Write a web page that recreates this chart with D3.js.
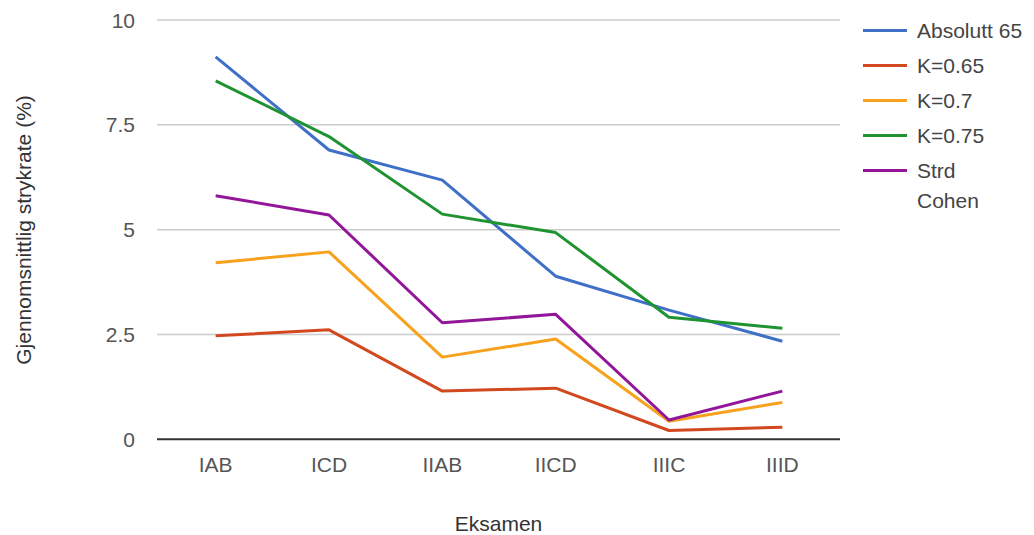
<!DOCTYPE html>
<html>
<head>
<meta charset="utf-8">
<script src="https://cdn.jsdelivr.net/npm/d3@7"></script>
<style>
  html, body { margin: 0; padding: 0; background: #fff; }
  svg text { font-family: Arial, "Liberation Sans", sans-serif; }
</style>
</head>
<body>
<svg id="chart" width="1034" height="535"></svg>
<script>
// Exam categories along the x axis
const categories = ["IAB", "ICD", "IIAB", "IICD", "IIIC", "IIID"];

// Average failure rate (%) per exam for each grading method
const absolutt65 = [9.12, 6.90, 6.18, 3.89, 3.08, 2.34];
const k065       = [2.47, 2.61, 1.15, 1.22, 0.21, 0.29];
const k07        = [4.21, 4.47, 1.96, 2.39, 0.43, 0.88];
const k075       = [8.55, 7.22, 5.37, 4.93, 2.91, 2.65];
const strdCohen  = [5.81, 5.35, 2.78, 2.98, 0.46, 1.15];

const seriesNames  = ["Absolutt 65", "K=0.65", "K=0.7", "K=0.75", "Strd Cohen"];
const seriesValues = [absolutt65, k065, k07, k075, strdCohen];
const seriesColors = ["#3f70c8", "#d2491f", "#f7a11d", "#1f9330", "#92169a"];

const yTicks = [0, 2.5, 5, 7.5, 10];
const yTickLabels = ["0", "2.5", "5", "7.5", "10"];

const svg = d3.select("#chart");

const plot = { left: 157, right: 840, top: 20, bottom: 439.3 };

const x = d3.scalePoint()
  .domain(categories)
  .range([159, 839])
  .padding(0.5);

const y = d3.scaleLinear()
  .domain([0, 10])
  .range([plot.bottom, plot.top]);

// Horizontal gridlines
svg.append("g")
  .selectAll("line")
  .data(yTicks.filter(d => d !== 0))
  .join("line")
  .attr("x1", plot.left).attr("x2", plot.right)
  .attr("y1", d => y(d)).attr("y2", d => y(d))
  .attr("stroke", "#cccccc")
  .attr("stroke-width", 1.5);

// Y tick labels
svg.append("g")
  .selectAll("text")
  .data(yTicks)
  .join("text")
  .attr("x", 135)
  .attr("y", d => y(d))
  .attr("dy", "0.36em")
  .attr("text-anchor", "end")
  .attr("font-size", 21)
  .attr("fill", "#555")
  .text((d, i) => yTickLabels[i]);

// Series lines
const line = d3.line()
  .x((d, i) => x(categories[i]))
  .y(d => y(d));

svg.append("g")
  .selectAll("path")
  .data(seriesValues)
  .join("path")
  .attr("d", d => line(d))
  .attr("fill", "none")
  .attr("stroke", (d, i) => seriesColors[i])
  .attr("stroke-width", 3)
  .attr("stroke-linejoin", "round");

// Baseline at zero
svg.append("line")
  .attr("x1", plot.left).attr("x2", plot.right)
  .attr("y1", y(0)).attr("y2", y(0))
  .attr("stroke", "#333")
  .attr("stroke-width", 2);

// X tick labels
svg.append("g")
  .selectAll("text")
  .data(categories)
  .join("text")
  .attr("x", d => x(d))
  .attr("y", 472)
  .attr("text-anchor", "middle")
  .attr("font-size", 21)
  .attr("fill", "#555")
  .text(d => d);

// Axis titles
svg.append("text")
  .attr("x", (plot.left + plot.right) / 2)
  .attr("y", 531)
  .attr("text-anchor", "middle")
  .attr("font-size", 21)
  .attr("fill", "#333")
  .text("Eksamen");

svg.append("text")
  .attr("transform", "translate(31,230) rotate(-90)")
  .attr("text-anchor", "middle")
  .attr("font-size", 21)
  .attr("fill", "#333")
  .text("Gjennomsnittlig strykrate (%)");

// Legend
const legend = svg.append("g");
const rowY = [30.5, 65.5, 100.5, 135.5, 170.5];
seriesNames.forEach((name, i) => {
  const g = legend.append("g").attr("transform", `translate(0,${rowY[i]})`);
  g.append("line")
    .attr("x1", 863).attr("x2", 907)
    .attr("y1", 0).attr("y2", 0)
    .attr("stroke", seriesColors[i])
    .attr("stroke-width", 3);
  const words = name === "Strd Cohen" ? ["Strd", "Cohen"] : [name];
  const t = g.append("text")
    .attr("x", 917)
    .attr("y", 0)
    .attr("font-size", 21)
    .attr("fill", "#444");
  words.forEach((w, j) => {
    t.append("tspan").attr("x", 917).attr("dy", j === 0 ? "0.36em" : 30).text(w);
  });
});
</script>
</body>
</html>
